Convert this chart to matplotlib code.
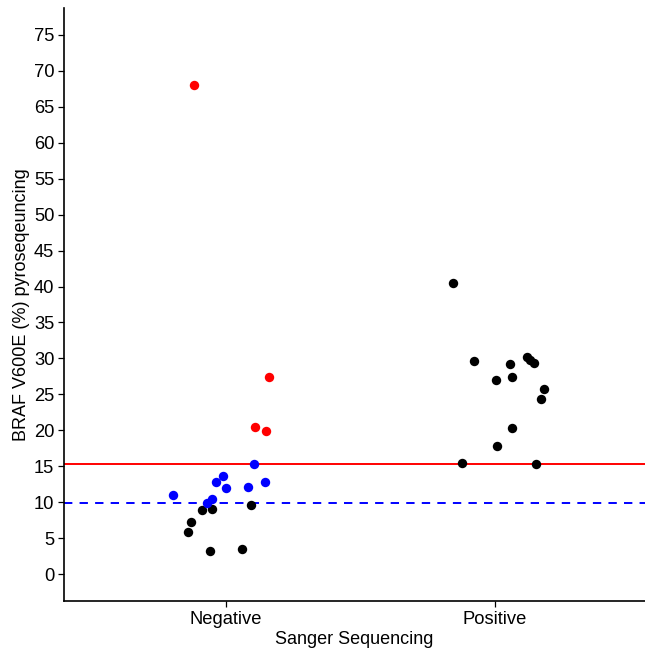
"""BRAF V600E pyrosequencing vs Sanger sequencing - jittered dot plot"""
import matplotlib
matplotlib.use('Agg')
from matplotlib import pyplot as plt

plt.rcParams['font.family'] = ['Liberation Sans', 'DejaVu Sans']

categories = ['Negative', 'Positive']

# Sanger negative group, split by colour
neg_black = [8.9, 9.05, 9.6, 7.2, 5.85, 3.2, 3.5]
neg_black_jit = [-0.091, -0.052, 0.092, -0.130, -0.143, -0.062, 0.060]
neg_blue = [15.25, 11.0, 13.7, 12.75, 11.97, 12.1, 12.75, 10.4, 9.9]
neg_blue_jit = [0.104, -0.199, -0.012, -0.037, 0.001, 0.081, 0.145, -0.051, -0.072]
neg_red = [20.4, 19.9, 27.4, 68.0]
neg_red_jit = [0.109, 0.150, 0.160, -0.120]

# Sanger positive group
pos_black = [40.5, 29.6, 29.2, 30.2, 29.8, 29.4, 27.0, 27.4, 25.8, 24.4,
             20.25, 17.75, 15.45, 15.35]
pos_black_jit = [-0.154, -0.077, 0.059, 0.119, 0.133, 0.148, 0.005, 0.063,
                 0.183, 0.174, 0.063, 0.007, -0.123, 0.155]

red_cutoff = 15.3
blue_cutoff = 9.83

fig = plt.figure(figsize=(6.45, 6.52), dpi=100)
ax = fig.add_axes([64 / 645, 51 / 652, 581 / 645, 593 / 652])

ax.axhline(red_cutoff, color='red', lw=1.4, zorder=1)
ax.axhline(blue_cutoff, color='blue', lw=1.4, dashes=(4.3, 3.7), zorder=1)

s = 46
ax.scatter([1 + j for j in neg_black_jit], neg_black, s=s, c='black', lw=0, zorder=3)
ax.scatter([1 + j for j in neg_blue_jit], neg_blue, s=s, c='blue', lw=0, zorder=3)
ax.scatter([1 + j for j in neg_red_jit], neg_red, s=s, c='red', lw=0, zorder=3)
ax.scatter([2 + j for j in pos_black_jit], pos_black, s=s, c='black', lw=0, zorder=3)

ax.set_xlim(0.396, 2.56)
ax.set_ylim(-3.75, 78.75)
ax.set_xticks([1, 2])
ax.set_xticklabels(categories)
ax.set_yticks(range(0, 80, 5))

for side in ['top', 'right']:
    ax.spines[side].set_visible(False)
for side in ['left', 'bottom']:
    ax.spines[side].set_linewidth(1.2)

ax.tick_params(axis='both', labelsize=13.2, length=4, width=0.9, pad=3, colors='black')
ax.set_xlabel('Sanger Sequencing', fontsize=13, labelpad=2)
ax.set_ylabel('BRAF V600E (%) pyroseqeuncing', fontsize=13, labelpad=3)

fig.savefig('out.png', dpi=100)
